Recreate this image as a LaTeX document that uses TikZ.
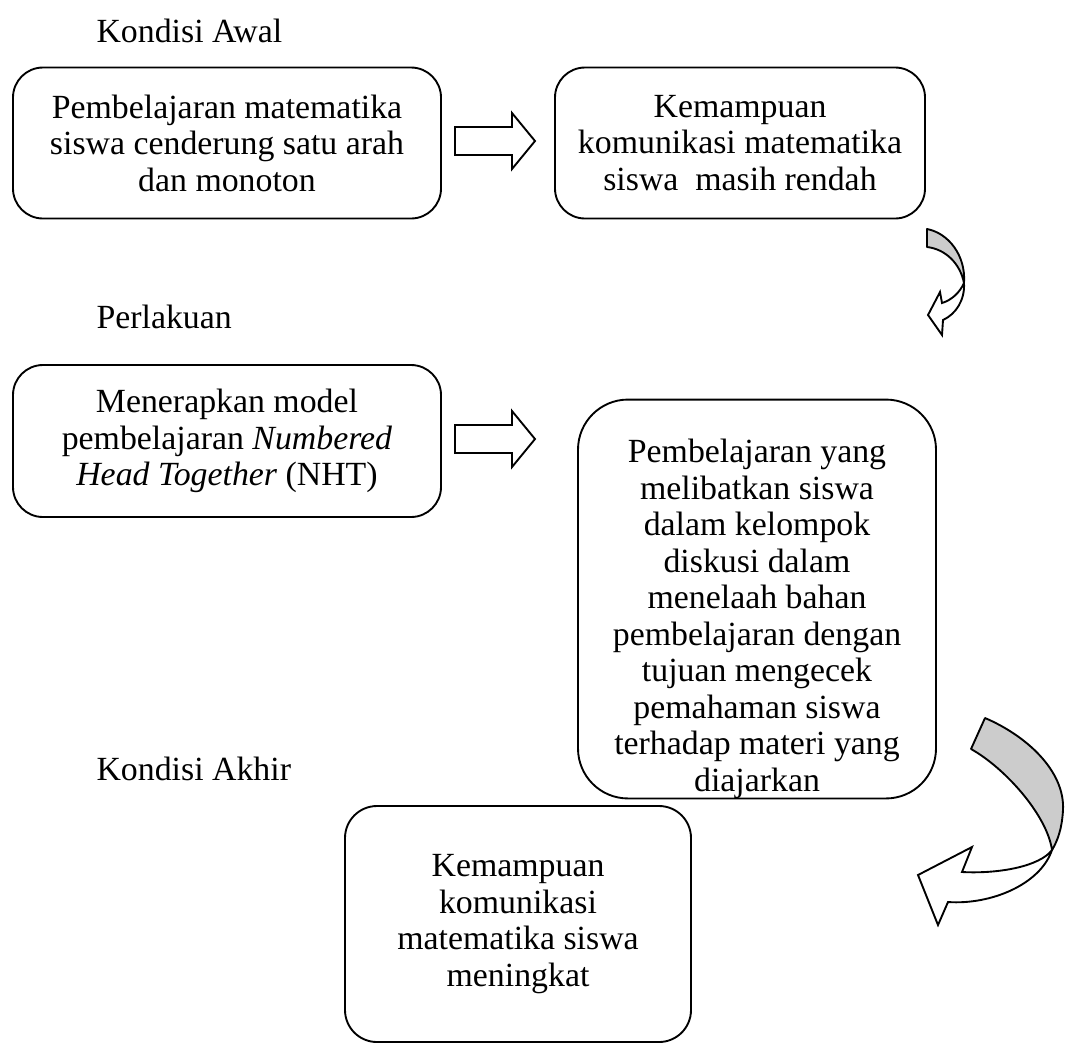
\documentclass[tikz,border=0pt]{standalone}
\usepackage{fontspec}
\setmainfont{Liberation Serif}
\usetikzlibrary{calc}

\newcommand{\pxu}{0.3725pt}
% block arrow centred on a coordinate, pointing right
\newcommand{\blockarrow}[1]{%
  \draw[blockarrow] (#1) ++(-40,-14) -- ++(57,0) -- ++(0,-14) -- ++(23,28)
    -- ++(-23,28) -- ++(0,-14) -- ++(-57,0) -- cycle;}

\begin{document}
\begin{tikzpicture}[
    x=\pxu, y=-\pxu,
    every node/.style={font=\fontsize{12.6}{13.6}\selectfont},
    box/.style={draw, line width=0.7pt, align=center, inner sep=0pt,
      rounded corners=30*\pxu},
    heading/.style={anchor=base west, inner sep=0pt},
    blockarrow/.style={draw, line width=0.7pt, fill=white, line join=miter},
    ribbon back/.style={draw, line width=0.7pt, fill=black!20, line join=round},
    ribbon front/.style={draw, line width=0.7pt, fill=white, line join=miter}
  ]
  \useasboundingbox (0,0) rectangle (1068,1046);

  % headings
  \node[heading] (lblAwal) at (96,42) {Kondisi Awal};
  \node[heading] (lblPerlakuan) at (96,328) {Perlakuan};
  \node[heading] (lblAkhir) at (96,780) {Kondisi Akhir};

  % boxes
  \node[box, minimum width=428*\pxu, minimum height=151*\pxu] (awal1) at (227,143)
    {Pembelajaran matematika\\siswa cenderung satu arah\\dan monoton};
  \node[box, minimum width=370*\pxu, minimum height=151*\pxu] (awal2) at (740,143)
    {Kemampuan\\komunikasi matematika\\siswa\ \ masih rendah};
  \node[box, minimum width=428*\pxu, minimum height=152*\pxu] (perlakuan1) at (227,441)
    {Menerapkan model\\pembelajaran \textit{Numbered}\\\textit{Head Together} (NHT)};
  \node[box, minimum width=358*\pxu, minimum height=398*\pxu,
    rounded corners=50*\pxu] (perlakuan2) at (757,599)
    {\rule{0pt}{23.5pt}Pembelajaran yang\\melibatkan siswa\\dalam kelompok\\diskusi dalam\\menelaah bahan\\
     pembelajaran dengan\\tujuan mengecek\\pemahaman siswa\\terhadap materi yang\\diajarkan};
  \node[box, minimum width=346*\pxu, minimum height=236*\pxu,
    rounded corners=32*\pxu] (akhir) at (518,924)
    {Kemampuan\\komunikasi\\matematika siswa\\meningkat};

  % straight arrows
  \blockarrow{$(awal1.east)!0.5!(awal2.west)+(-3,-2)$}
  \blockarrow{$(awal1.east)!0.5!(awal2.west)+(-3,296)$}

  % curved arrow, top right
  \draw[ribbon back] (927,229) .. controls (948,233) and (966,255) .. (964,283)
    .. controls (960,263) and (945,249) .. (927,247) -- cycle;
  \draw[ribbon front] (964,283) .. controls (960,292) and (952,300) .. (942,303)
    -- (940,292) -- (928,315) -- (942,335) -- (943,320)
    .. controls (956,314) and (965,300) .. (964,283) -- cycle;

  % curved arrow, bottom right
  \draw[ribbon back] (985,718) .. controls (1025,735) and (1065,770) .. (1063,810)
    .. controls (1062,828) and (1058,840) .. (1052,850)
    .. controls (1047,815) and (1005,768) .. (971,749) -- cycle;
  \draw[ribbon front] (1052,850) .. controls (1040,866) and (1000,874) .. (962,872)
    -- (972,847) -- (918,875) -- (938,925) -- (948,902)
    .. controls (990,905) and (1040,885) .. (1052,850) -- cycle;
\end{tikzpicture}
\end{document}
